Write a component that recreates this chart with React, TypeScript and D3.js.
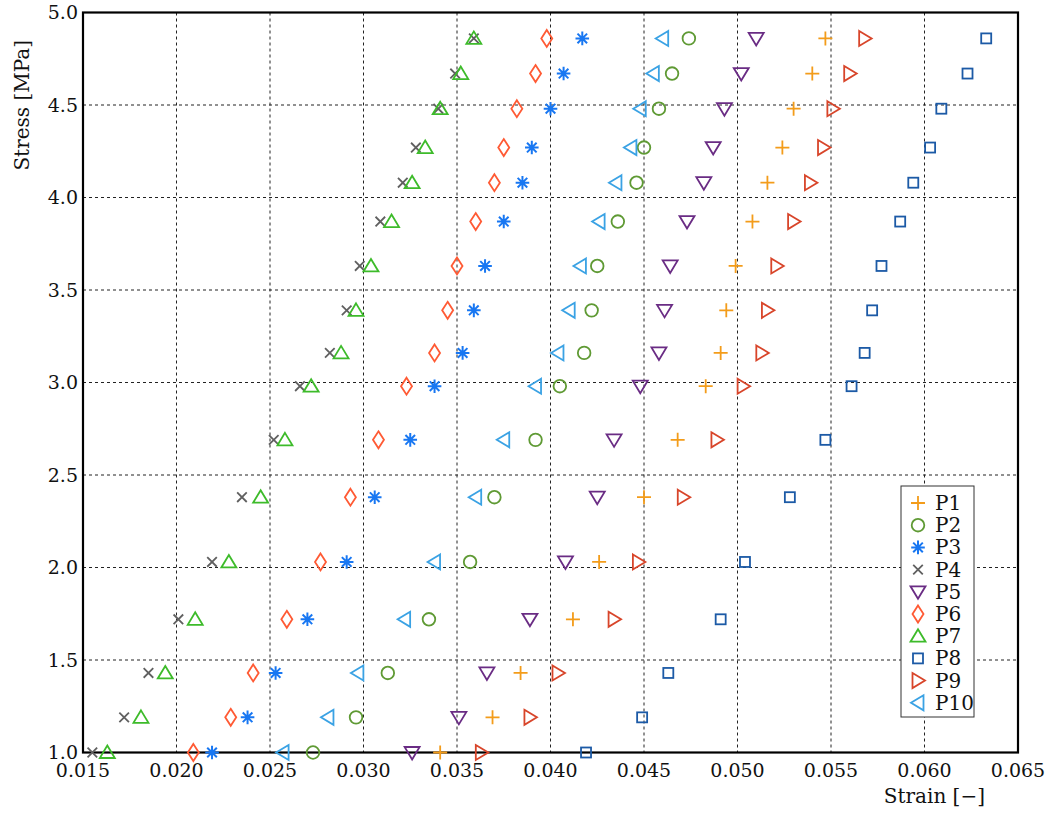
import * as d3 from "d3";

// stress levels (MPa), shared by every specimen
const STRESS = [1.0, 1.19, 1.43, 1.72, 2.03, 2.38, 2.69, 2.98, 3.16, 3.39, 3.63, 3.87, 4.08, 4.27, 4.48, 4.67, 4.86];

// strain [-] per specimen, same order as STRESS
const P1  = [0.0341, 0.0369, 0.0384, 0.0412, 0.0426, 0.0450, 0.0468, 0.0483, 0.0491, 0.0494, 0.0499, 0.0508, 0.0516, 0.0524, 0.0530, 0.0540, 0.0547];
const P2  = [0.0273, 0.0296, 0.0313, 0.0335, 0.0357, 0.0370, 0.0392, 0.0405, 0.0418, 0.0422, 0.0425, 0.0436, 0.0446, 0.0450, 0.0458, 0.0465, 0.0474];
const P3  = [0.0219, 0.0238, 0.0253, 0.0270, 0.0291, 0.0306, 0.0325, 0.0338, 0.0353, 0.0359, 0.0365, 0.0375, 0.0385, 0.0390, 0.0400, 0.0407, 0.0417];
const P4  = [0.0155, 0.0172, 0.0185, 0.0201, 0.0219, 0.0235, 0.0252, 0.0266, 0.0282, 0.0291, 0.0298, 0.0309, 0.0321, 0.0328, 0.0340, 0.0349, 0.0359];
const P5  = [0.0326, 0.0351, 0.0366, 0.0389, 0.0408, 0.0425, 0.0434, 0.0448, 0.0458, 0.0461, 0.0464, 0.0473, 0.0482, 0.0487, 0.0493, 0.0502, 0.0510];
const P6  = [0.0209, 0.0229, 0.0241, 0.0259, 0.0277, 0.0293, 0.0308, 0.0323, 0.0338, 0.0345, 0.0350, 0.0360, 0.0370, 0.0375, 0.0382, 0.0392, 0.0398];
const P7  = [0.0163, 0.0181, 0.0194, 0.0210, 0.0228, 0.0245, 0.0258, 0.0272, 0.0288, 0.0296, 0.0304, 0.0315, 0.0326, 0.0333, 0.0341, 0.0352, 0.0359];
const P8  = [0.0419, 0.0449, 0.0463, 0.0491, 0.0504, 0.0528, 0.0547, 0.0561, 0.0568, 0.0572, 0.0577, 0.0587, 0.0594, 0.0603, 0.0609, 0.0623, 0.0633];
const P9  = [0.0363, 0.0389, 0.0404, 0.0434, 0.0447, 0.0471, 0.0489, 0.0503, 0.0513, 0.0516, 0.0521, 0.0530, 0.0539, 0.0546, 0.0551, 0.0560, 0.0568];
const P10 = [0.0257, 0.0281, 0.0297, 0.0322, 0.0338, 0.0360, 0.0375, 0.0392, 0.0404, 0.0410, 0.0416, 0.0426, 0.0435, 0.0443, 0.0448, 0.0455, 0.0460];

const SERIES_NAMES = ["P1", "P2", "P3", "P4", "P5", "P6", "P7", "P8", "P9", "P10"];
const SERIES_VALUES = [P1, P2, P3, P4, P5, P6, P7, P8, P9, P10];

const X_TICKS = [0.015, 0.02, 0.025, 0.03, 0.035, 0.04, 0.045, 0.05, 0.055, 0.06, 0.065];
const Y_TICKS = [1.0, 1.5, 2.0, 2.5, 3.0, 3.5, 4.0, 4.5, 5.0];

type Shape = "plus" | "circle" | "asterisk" | "x" | "tri-down" | "diamond" | "tri-up" | "square" | "tri-right" | "tri-left";
const SHAPES: Shape[] = ["plus", "circle", "asterisk", "x", "tri-down", "diamond", "tri-up", "square", "tri-right", "tri-left"];
const COLORS = ["#f39c1a", "#5f9a34", "#1877f2", "#606060", "#6a2c84", "#ff5a34", "#3dbb2a", "#1c5aa6", "#d8452a", "#3aa2e4"];

const W = 1052, H = 814;
const L = 83, R = 1018, T = 12.5, B = 752.5;
const FONT = "'DejaVu Serif', serif";

function Marker({ shape, x, y, color }: { shape: Shape; x: number; y: number; color: string }) {
  const sw = 1.8;
  const common = { fill: "none", stroke: color, strokeWidth: sw, strokeLinejoin: "miter" as const };
  switch (shape) {
    case "plus":
      return <path d={`M${x - 7},${y}H${x + 7}M${x},${y - 7}V${y + 7}`} {...common} />;
    case "circle":
      return <circle cx={x} cy={y} r={6.3} {...common} />;
    case "asterisk": {
      const r = 6.8, d = r * Math.SQRT1_2;
      return <path d={`M${x - r},${y}H${x + r}M${x},${y - r}V${y + r}M${x - d},${y - d}L${x + d},${y + d}M${x - d},${y + d}L${x + d},${y - d}`} {...common} strokeWidth={2} />;
    }
    case "x": {
      const r = 4.8;
      return <path d={`M${x - r},${y - r}L${x + r},${y + r}M${x - r},${y + r}L${x + r},${y - r}`} {...common} />;
    }
    case "tri-down":
      return <path d={`M${x - 7.5},${y - 5.5}L${x + 7.5},${y - 5.5}L${x},${y + 7}Z`} {...common} />;
    case "tri-up":
      return <path d={`M${x},${y - 7}L${x + 7.5},${y + 5.5}L${x - 7.5},${y + 5.5}Z`} {...common} />;
    case "tri-right":
      return <path d={`M${x - 5.5},${y - 7.5}L${x + 7},${y}L${x - 5.5},${y + 7.5}Z`} {...common} />;
    case "tri-left":
      return <path d={`M${x + 5.5},${y - 7.5}L${x - 7},${y}L${x + 5.5},${y + 7.5}Z`} {...common} />;
    case "diamond":
      return <path d={`M${x},${y - 8.5}L${x + 5.5},${y}L${x},${y + 8.5}L${x - 5.5},${y}Z`} {...common} />;
    case "square":
      return <rect x={x - 5} y={y - 5} width={10} height={10} {...common} />;
  }
}

export default function App() {
  const x = d3.scaleLinear().domain([0.015, 0.065]).range([L, R]);
  const y = d3.scaleLinear().domain([1.0, 5.0]).range([B, T]);

  const legendX = 901, legendY = 486, legendW = 73, legendH = 231, rowH = 22.2;

  return (
    <svg width={W} height={H} style={{ position: "absolute", left: 0, top: 0, background: "#fff" }} fontFamily={FONT}>
      {/* grid */}
      <g stroke="#222" strokeWidth={1} strokeDasharray="3,3">
        {X_TICKS.slice(1, -1).map(t => (
          <line key={`gx${t}`} x1={x(t)} x2={x(t)} y1={T} y2={B} />
        ))}
        {Y_TICKS.slice(1, -1).map(t => (
          <line key={`gy${t}`} x1={L} x2={R} y1={y(t)} y2={y(t)} />
        ))}
      </g>

      {/* frame */}
      <rect x={L} y={T} width={R - L} height={B - T} fill="none" stroke="#000" strokeWidth={2.2} />

      {/* tick labels */}
      <g fontSize={19} fill="#111">
        {X_TICKS.map(t => (
          <text key={`tx${t}`} x={x(t)} y={777} textAnchor="middle">{d3.format(".3f")(t)}</text>
        ))}
        {Y_TICKS.map(t => (
          <text key={`ty${t}`} x={78} y={y(t) + 6.5} textAnchor="end">{d3.format(".1f")(t)}</text>
        ))}
      </g>

      {/* axis titles */}
      <text x={985} y={803} textAnchor="end" fontSize={20} fill="#111">Strain [−]</text>
      <text transform={`translate(29,40) rotate(-90)`} textAnchor="end" fontSize={20} fill="#111">Stress [MPa]</text>

      {/* data */}
      {SERIES_VALUES.map((vals, si) => (
        <g key={SERIES_NAMES[si]}>
          {vals.map((v, i) => (
            <Marker key={i} shape={SHAPES[si]} x={x(v)} y={y(STRESS[i])} color={COLORS[si]} />
          ))}
        </g>
      ))}

      {/* legend */}
      <rect x={legendX} y={legendY} width={legendW} height={legendH} fill="#fff" stroke="#333" strokeWidth={1} />
      {SERIES_NAMES.map((name, i) => {
        const cy = legendY + 17 + i * rowH;
        return (
          <g key={`lg${name}`}>
            <Marker shape={SHAPES[i]} x={legendX + 17} y={cy} color={COLORS[i]} />
            <text x={legendX + 34} y={cy + 7} fontSize={20} fill="#111">{name}</text>
          </g>
        );
      })}
    </svg>
  );
}
